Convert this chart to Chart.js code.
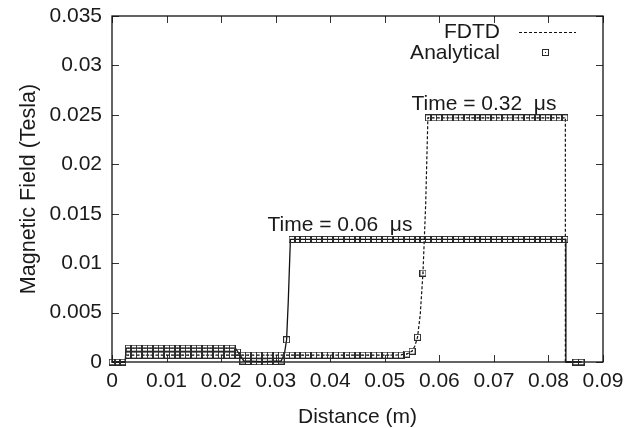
<!DOCTYPE html>
<html>
<head>
<meta charset="utf-8">
<script src="https://cdn.jsdelivr.net/npm/chart.js@4.4.1/dist/chart.umd.min.js"></script>
<style>
  html, body { margin: 0; padding: 0; background: #fff; }
  #chart { display: block; }
</style>
</head>
<body>
<canvas id="chart" width="629" height="428"></canvas>
<script>
// Analytical solution, sampled every millimetre
const distance = [
  0, 0.001, 0.002, 0.003, 0.004, 0.005, 0.006, 0.007, 0.008, 0.009,
  0.010, 0.011, 0.012, 0.013, 0.014, 0.015, 0.016, 0.017, 0.018, 0.019,
  0.020, 0.021, 0.022, 0.023, 0.024, 0.025, 0.026, 0.027, 0.028, 0.029,
  0.030, 0.031, 0.032, 0.033, 0.034, 0.035, 0.036, 0.037, 0.038, 0.039,
  0.040, 0.041, 0.042, 0.043, 0.044, 0.045, 0.046, 0.047, 0.048, 0.049,
  0.050, 0.051, 0.052, 0.053, 0.054, 0.055, 0.056, 0.057, 0.058, 0.059,
  0.060, 0.061, 0.062, 0.063, 0.064, 0.065, 0.066, 0.067, 0.068, 0.069,
  0.070, 0.071, 0.072, 0.073, 0.074, 0.075, 0.076, 0.077, 0.078, 0.079,
  0.080, 0.081, 0.082, 0.083, 0.085, 0.086
];

const analytical006 = [
  0, 0, 0, 0.0014, 0.0014, 0.0014, 0.0014, 0.0014, 0.0014, 0.0014,
  0.0014, 0.0014, 0.0014, 0.0014, 0.0014, 0.0014, 0.0014, 0.0014, 0.0014, 0.0014,
  0.0014, 0.0014, 0.0014, 0.001, 0.0001, 0.00006, 0.00004, 0.00003, 0.00003, 0.00004,
  0.00006, 0.0001, 0.00225, 0.0124, 0.0124, 0.0124, 0.0124, 0.0124, 0.0124, 0.0124,
  0.0124, 0.0124, 0.0124, 0.0124, 0.0124, 0.0124, 0.0124, 0.0124, 0.0124, 0.0124,
  0.0124, 0.0124, 0.0124, 0.0124, 0.0124, 0.0124, 0.0124, 0.0124, 0.0124, 0.0124,
  0.0124, 0.0124, 0.0124, 0.0124, 0.0124, 0.0124, 0.0124, 0.0124, 0.0124, 0.0124,
  0.0124, 0.0124, 0.0124, 0.0124, 0.0124, 0.0124, 0.0124, 0.0124, 0.0124, 0.0124,
  0.0124, 0.0124, 0.0124, 0.0124, 0, 0
];

const analytical032 = [
  0, 0, 0, 0.0007, 0.0007, 0.0007, 0.0007, 0.0007, 0.0007, 0.0007,
  0.0007, 0.0007, 0.0007, 0.0007, 0.0007, 0.0007, 0.0007, 0.0007, 0.0007, 0.0007,
  0.0007, 0.0007, 0.0007, 0.0007, 0.0007, 0.0007, 0.0007, 0.0007, 0.0007, 0.0007,
  0.0007, 0.0007, 0.0007, 0.0007, 0.0007, 0.0007, 0.0007, 0.0007, 0.0007, 0.0007,
  0.0007, 0.0007, 0.0007, 0.0007, 0.0007, 0.0007, 0.0007, 0.0007, 0.0007, 0.0007,
  0.0007, 0.0007, 0.0007, 0.0007, 0.0008, 0.0011, 0.0025, 0.009, 0.0247, 0.0247,
  0.0247, 0.0247, 0.0247, 0.0247, 0.0247, 0.0247, 0.0247, 0.0247, 0.0247, 0.0247,
  0.0247, 0.0247, 0.0247, 0.0247, 0.0247, 0.0247, 0.0247, 0.0247, 0.0247, 0.0247,
  0.0247, 0.0247, 0.0247, 0.0247, 0, 0
];

// FDTD curves
const fdtdDistance006 = [0, 0.0024, 0.0026, 0.0226, 0.0236, 0.0242, 0.0275, 0.031, 0.0316, 0.032, 0.0323, 0.0327, 0.0832, 0.0832, 0.086];
const fdtdField006 = [0, 0, 0.0014, 0.0014, 0.0006, 0.0001, 0.00003, 0.0001, 0.0008, 0.00225, 0.006, 0.0124, 0.0124, 0, 0];

const fdtdDistance032 = [0, 0.0024, 0.0026, 0.052, 0.054, 0.055, 0.0555, 0.056, 0.0565, 0.057, 0.0575, 0.0579, 0.0831, 0.0831, 0.086];
const fdtdField032 = [0, 0, 0.0007, 0.0007, 0.0008, 0.0011, 0.0016, 0.0025, 0.0048, 0.009, 0.016, 0.0247, 0.0247, 0, 0];

const xTickLabels = ['0', '0.01', '0.02', '0.03', '0.04', '0.05', '0.06', '0.07', '0.08', '0.09'];
const yTickLabels = ['0', '0.005', '0.01', '0.015', '0.02', '0.025', '0.03', '0.035'];

const timeLabels = ['Time = 0.06  \u03bcs', 'Time = 0.32  \u03bcs'];
const timeLabelX = [0.0285, 0.0549];
const timeLabelY = [0.0133, 0.02545];

const FONT = '"Liberation Sans", Arial, Helvetica, sans-serif';
const INK = '#1a1a1a';

Chart.defaults.font.family = FONT;
Chart.defaults.color = INK;

// Small square with a dot, like gnuplot's point type 
function makeMarker() {
    const c = document.createElement('canvas');
    c.width = 7;
    c.height = 7;
    const g = c.getContext('2d');
    g.strokeStyle = '#2a2a2a';
    g.lineWidth = 1;
    g.strokeRect(0.5, 0.5, 6, 6);
    g.fillStyle = '#2a2a2a';
    g.fillRect(3, 3, 1, 1);
    return c;
}
const marker = makeMarker();

function toPoints(xs, ys) {
    return xs.map((x, i) => ({ x: x, y: ys[i] }));
}

// Frame with inward ticks on all four sides
const framePlugin = {
    id: 'frame',
    beforeDatasetsDraw(chart) {
        const { ctx, chartArea: a, scales } = chart;
        ctx.save();
        ctx.strokeStyle = '#333';
        ctx.lineWidth = 1;
        ctx.beginPath();
        scales.x.ticks.forEach(t => {
            const px = Math.round(scales.x.getPixelForValue(t.value)) + 0.5;
            ctx.moveTo(px, a.bottom); ctx.lineTo(px, a.bottom - 7);
            ctx.moveTo(px, a.top); ctx.lineTo(px, a.top + 7);
        });
        scales.y.ticks.forEach(t => {
            const py = Math.round(scales.y.getPixelForValue(t.value)) + 0.5;
            ctx.moveTo(a.left, py); ctx.lineTo(a.left + 7, py);
            ctx.moveTo(a.right, py); ctx.lineTo(a.right - 7, py);
        });
        ctx.stroke();
        ctx.strokeStyle = '#111';
        ctx.lineWidth = 1.3;
        ctx.strokeRect(a.left, a.top, a.right - a.left, a.bottom - a.top);
        ctx.restore();
    }
};

// Key in the top right corner, text to the left of the sample
const keyPlugin = {
    id: 'key',
    afterDatasetsDraw(chart) {
        const { ctx, chartArea: a } = chart;
        ctx.save();
        ctx.font = '21px ' + FONT;
        ctx.fillStyle = INK;
        ctx.textAlign = 'right';
        ctx.textBaseline = 'middle';
        ctx.fillText('FDTD', a.right - 103, a.top + 16);
        ctx.fillText('Analytical', a.right - 103, a.top + 37);
        ctx.strokeStyle = '#111';
        ctx.lineWidth = 1.2;
        ctx.setLineDash([3, 2]);
        ctx.beginPath();
        ctx.moveTo(a.right - 84, a.top + 16.5);
        ctx.lineTo(a.right - 27, a.top + 16.5);
        ctx.stroke();
        ctx.drawImage(marker, a.right - 61, a.top + 33);
        ctx.restore();
    }
};

// "Time = ..." annotations placed in data coordinates
const timePlugin = {
    id: 'timeLabels',
    afterDatasetsDraw(chart) {
        const { ctx, scales } = chart;
        ctx.save();
        ctx.font = '21px ' + FONT;
        ctx.fillStyle = INK;
        ctx.textAlign = 'left';
        ctx.textBaseline = 'alphabetic';
        timeLabels.forEach((text, i) => {
            ctx.fillText(text, scales.x.getPixelForValue(timeLabelX[i]), scales.y.getPixelForValue(timeLabelY[i]));
        });
        ctx.restore();
    }
};

const ctx = document.getElementById('chart').getContext('2d');

new Chart(ctx, {
    type: 'scatter',
    data: {
        datasets: [
            {
                label: 'Analytical 0.06',
                data: toPoints(distance, analytical006),
                showLine: false,
                pointStyle: marker,
                pointRadius: 4,
                clip: false
            },
            {
                label: 'Analytical',
                data: toPoints(distance, analytical032),
                showLine: false,
                pointStyle: marker,
                pointRadius: 4,
                clip: false
            },
            {
                label: 'FDTD 0.06',
                data: toPoints(fdtdDistance006, fdtdField006),
                showLine: true,
                borderColor: '#111',
                borderWidth: 1.3,
                pointRadius: 0,
                tension: 0,
                clip: false
            },
            {
                label: 'FDTD',
                data: toPoints(fdtdDistance032, fdtdField032),
                showLine: true,
                borderColor: '#111',
                borderWidth: 1.2,
                borderDash: [3, 2],
                pointRadius: 0,
                tension: 0,
                clip: false
            }
        ]
    },
    options: {
        responsive: false,
        animation: false,
        layout: { padding: { top: 16, right: 26, left: 0, bottom: 0 } },
        plugins: {
            legend: { display: false },
            tooltip: { enabled: false }
        },
        scales: {
            x: {
                type: 'linear',
                min: 0,
                max: 0.09,
                grid: { display: false, drawTicks: false },
                border: { display: false },
                ticks: {
                    stepSize: 0.01,
                    padding: 7,
                    maxRotation: 0,
                    autoSkip: false,
                    font: { size: 21 },
                    callback: (value) => xTickLabels[Math.round(value / 0.01)]
                },
                title: {
                    display: true,
                    text: 'Distance (m)',
                    font: { size: 21 },
                    padding: { top: 0, bottom: -2 }
                },
                afterFit: (scale) => {
                    scale.height = 66;
                    scale.paddingLeft = 0;
                    scale.paddingRight = 0;
                }
            },
            y: {
                type: 'linear',
                min: 0,
                max: 0.035,
                grid: { display: false, drawTicks: false },
                border: { display: false },
                ticks: {
                    stepSize: 0.005,
                    padding: 10,
                    autoSkip: false,
                    font: { size: 21 },
                    callback: (value) => yTickLabels[Math.round(value / 0.005)]
                },
                title: {
                    display: true,
                    text: 'Magnetic Field (Tesla)',
                    font: { size: 21.5 },
                    padding: { top: 16, bottom: 0 }
                },
                afterFit: (scale) => {
                    scale.width = 112;
                    scale.paddingTop = 0;
                    scale.paddingBottom = 0;
                }
            }
        }
    },
    plugins: [framePlugin, keyPlugin, timePlugin]
});
</script>
</body>
</html>
